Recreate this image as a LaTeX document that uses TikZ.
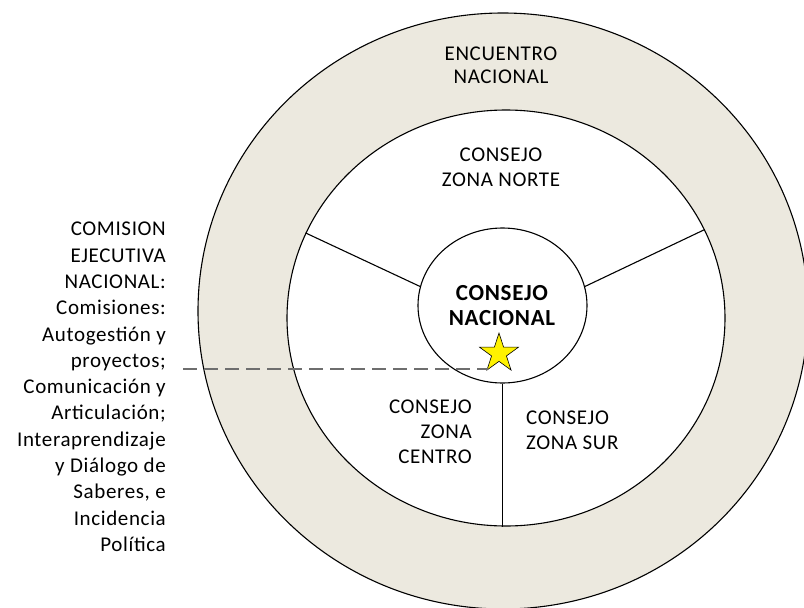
\documentclass[tikz,border=0pt]{standalone}
\usepackage{fontspec}
\setmainfont{Carlito}[LetterSpace=3]
\usetikzlibrary{shapes.geometric}
\definecolor{ringcol}{RGB}{236,233,223}
\definecolor{dashcol}{RGB}{110,110,110}
\tikzset{
  circ/.style={ellipse, draw=black, line width=1.1pt, inner sep=0pt},
  lbl/.style={font=\fontsize{21}{25}\selectfont, inner sep=0pt, align=center},
  boldlbl/.style={font=\fontsize{23}{25}\selectfont\bfseries, inner sep=0pt, align=center},
  spoke/.style={draw=black, line width=1.1pt},
  dashline/.style={draw=dashcol, line width=2pt, dash pattern=on 14pt off 7pt}
}
\begin{document}
\begin{tikzpicture}[x=1pt,y=-1pt]
\useasboundingbox (0,0) rectangle (804,608);
\clip (0,0) rectangle (804,608);
\fill[white] (0,0) rectangle (804,608);
% circles
\node[circ, fill=ringcol, minimum width=610pt, minimum height=596pt] (outer) at (503,311) {};
\node[circ, fill=white, minimum width=438pt, minimum height=416pt] (zi) at (506,318) {};
\node[circ, fill=white, minimum width=169pt, minimum height=155pt] (cn) at (502.5,305.5) {};
% spokes
\draw[spoke] (cn.167) -- (zi.157);
\draw[spoke] (cn.13) -- (zi.24.5);
\draw[spoke] (cn.south) -- (cn.south |- zi.south);
% star and dashed leader
\node[star, star points=5, star point ratio=2.618, minimum size=41pt, fill=yellow, draw=black, line width=0.6pt, inner sep=0pt] (star) at (499,353.5) {};
\coordinate (dl) at (183,369);
\draw[dashline] (dl) -- (dl -| star.west);
% labels
\node[lbl, anchor=north, font=\fontsize{21}{23}\selectfont] (enc) at (501,47) {ENCUENTRO\\NACIONAL};
\node[lbl, anchor=north] (norte) at (501,148) {CONSEJO\\ZONA NORTE};
\node[boldlbl, anchor=north] (nac) at (502,285) {CONSEJO\\NACIONAL};
\node[lbl, anchor=north east, align=right] (centro) at (472,400) {CONSEJO\\ZONA\\CENTRO};
\node[lbl, anchor=north west, align=left] (sur) at (526,411) {CONSEJO\\ZONA SUR};
\node[lbl, anchor=north east, align=right, font=\fontsize{21}{26.3}\selectfont] (cen) at (166,222)
  {COMISION\\EJECUTIVA\\NACIONAL:\\Comisiones:\\Autogestión y\\proyectos;\\Comunicación y\\Articulación;\\Interaprendizaje\\y Diálogo de\\Saberes, e\\Incidencia\\Política};
\end{tikzpicture}
\end{document}
